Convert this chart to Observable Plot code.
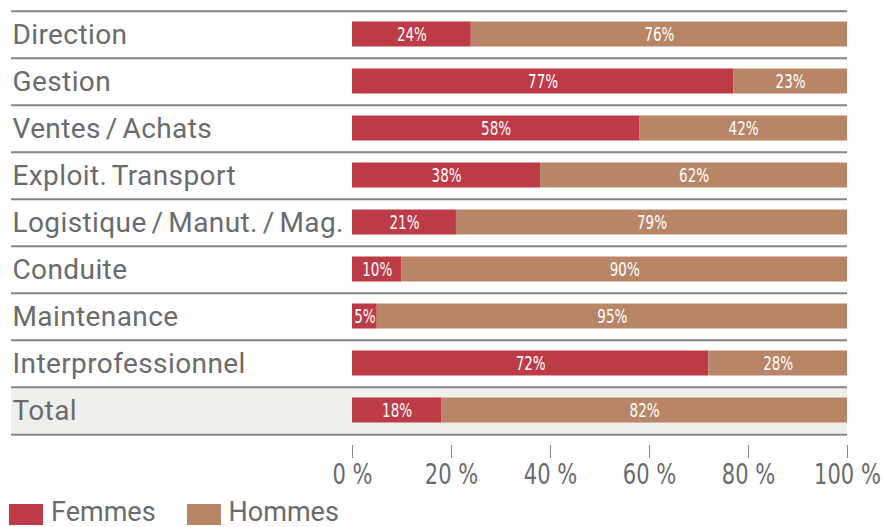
<!DOCTYPE html>
<html>
<head>
<meta charset="utf-8">
<script src="https://cdn.jsdelivr.net/npm/d3@7"></script>
<script src="https://cdn.jsdelivr.net/npm/@observablehq/plot@0.6"></script>
<style>
  html, body { margin: 0; padding: 0; background: #fff; }
  #chart { width: 884px; height: 527px; overflow: hidden; position: relative; }
  .legend { position: absolute; left: 0; top: 500px; display: flex; align-items: flex-start; padding-left: 9px;
            font-family: Roboto, "DejaVu Sans", sans-serif; font-size: 27px; font-weight: 400; line-height: 30px; color: #6a6b6e; }
  .legend .item { display: flex; align-items: flex-start; margin-right: 31px; }
  .legend .sw { width: 34px; height: 21px; margin-top: 4px; margin-right: 8px; }
  .legend .lab { margin-top: -3px; }
</style>
</head>
<body>
<div id="chart"></div>
<script>
const categories = ["Direction", "Gestion", "Ventes / Achats", "Exploit. Transport",
  "Logistique / Manut. / Mag.", "Conduite", "Maintenance", "Interprofessionnel", "Total"];
const femmes = [24, 77, 58, 38, 21, 10, 5, 72, 18];
const hommes = [76, 23, 42, 62, 79, 90, 95, 28, 82];
const series = ["Femmes", "Hommes"];
const colors = ["#bd3a47", "#b88666"];
const xTicks = [0, 20, 40, 60, 80, 100];

const data = [];
categories.forEach((c, i) => {
  data.push({cat: c, sexe: "Femmes", value: femmes[i]});
  data.push({cat: c, sexe: "Hommes", value: hommes[i]});
});

const W = 884, H = 500;
const yTop = 8.3, yBot = 436.7;
const bw = (yBot - yTop) / categories.length;
const textColor = "#6a6b6e";
const narrow = "'DejaVu Sans Condensed', 'DejaVu Sans', sans-serif";

const chart = Plot.plot({
  width: W,
  height: H,
  marginTop: 8,
  marginBottom: 55,
  marginLeft: 11,
  marginRight: 37,
  style: {background: "#fff", overflow: "visible"},
  x: {domain: [0, 100], range: [352, 847]},
  y: {type: "band", domain: categories, range: [yTop, yBot], padding: 0, axis: null},
  color: {domain: series, range: colors},
  marks: [
    Plot.cell(["Total"], {y: d => d, fill: "#efefeb"}),
    Plot.ruleY(categories, {y: d => d, dy: -bw / 2, stroke: "#858585", strokeWidth: 2}),
    Plot.ruleY([categories[categories.length - 1]], {y: d => d, dy: bw / 2, stroke: "#858585", strokeWidth: 2}),
    Plot.barX(data, {x: "value", y: "cat", fill: "sexe", insetTop: 10.5, insetBottom: 11.5}),
    Plot.text(data, Plot.stackX({x: "value", y: "cat", z: "sexe", text: d => d.value + "%",
      fill: "white", fontSize: 19.5, fontFamily: narrow})),
    Plot.text(categories, {y: d => d, text: d => d, frameAnchor: "left", dx: 1, fill: textColor,
      fontSize: 28, fontFamily: "Roboto, 'DejaVu Sans', sans-serif"}),
    Plot.axisX({ticks: xTicks, tickFormat: d => d + " %", tickSize: 13, tickPadding: 6,
      stroke: "#8a8a8a", color: textColor, fontSize: 27.5, fontFamily: narrow, label: null})
  ]
});

const root = document.getElementById("chart");
root.appendChild(chart);

// row labels: slight tracking, tighter word spacing (like the reference face)
chart.querySelectorAll("g[font-family^='Roboto']").forEach(g => {
  g.style.letterSpacing = "0.4px";
  g.style.wordSpacing = "-2.5px";
});

// condense the narrow texts horizontally around their anchor point
chart.querySelectorAll("text").forEach(el => {
  const g = el.closest("[font-family*='Condensed']");
  if (!g) return;
  const isAxis = / %$/.test(el.textContent);
  const f = isAxis ? 0.85 : 0.77;
  const t = el.getAttribute("transform") || "";
  el.setAttribute("transform", `${t} scale(${f},1)`);
});

const legend = document.createElement("div");
legend.className = "legend";
series.forEach((s, i) => {
  const item = document.createElement("div");
  item.className = "item";
  const sw = document.createElement("div");
  sw.className = "sw";
  sw.style.background = colors[i];
  const lab = document.createElement("span");
  lab.className = "lab";
  lab.textContent = s;
  item.appendChild(sw);
  item.appendChild(lab);
  legend.appendChild(item);
});
root.appendChild(legend);
</script>
</body>
</html>
